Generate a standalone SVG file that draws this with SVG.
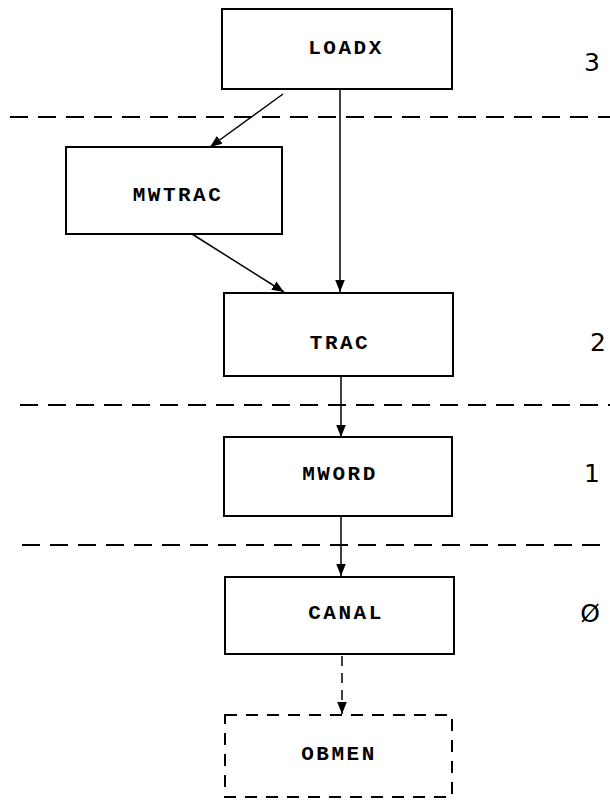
<svg xmlns="http://www.w3.org/2000/svg" width="610" height="800" viewBox="0 0 610 800">
<style>
.box{fill:#fff;stroke:#000;stroke-width:2}
.dbox{fill:#fff;stroke:#000;stroke-width:2;stroke-dasharray:12 9}
.lbl{font-family:"Liberation Mono",monospace;font-weight:bold;font-size:21px;letter-spacing:2.5px;text-anchor:middle;fill:#000}
.lvl{font-family:"DejaVu Sans",sans-serif;font-size:25px;fill:#000;text-anchor:middle}
.sep{stroke:#000;stroke-width:2;stroke-dasharray:18 10;fill:none}
.con{stroke:#000;stroke-width:1.5;fill:none}
</style>
<defs>
<marker id="ah" viewBox="0 0 10 10" refX="10" refY="5" markerWidth="12" markerHeight="12" markerUnits="userSpaceOnUse" orient="auto">
<path d="M0,1 L10,5 L0,9 z" fill="#000"/>
</marker>
</defs>
<g id="separators">
<line class="sep" x1="10" y1="117" x2="610" y2="117"/>
<line class="sep" x1="20" y1="405" x2="610" y2="405"/>
<line class="sep" x1="22" y1="545" x2="610" y2="545"/>
</g>
<g id="levels">
<text class="lvl" x="592" y="71">3</text>
<text class="lvl" x="598" y="351">2</text>
<text class="lvl" x="592" y="482">1</text>
<text class="lvl" x="590" y="622">Ø</text>
</g>
<g id="connectors">
<line class="con" x1="283" y1="94" x2="210" y2="147" marker-end="url(#ah)"/>
<line class="con" x1="340" y1="89" x2="340" y2="292" marker-end="url(#ah)"/>
<line class="con" x1="192" y1="234" x2="284" y2="292" marker-end="url(#ah)"/>
<line class="con" x1="341" y1="376" x2="341" y2="437" marker-end="url(#ah)"/>
<line class="con" x1="341" y1="516" x2="341" y2="576" marker-end="url(#ah)"/>
<line class="con" x1="342" y1="656" x2="342" y2="714" stroke-dasharray="10 7" marker-end="url(#ah)"/>
</g>
<g id="LOADX">
<rect class="box" x="222" y="9" width="230" height="80"/>
<text class="lbl" x="346" y="54">LOADX</text>
</g>
<g id="MWTRAC">
<rect class="box" x="66" y="147" width="216" height="87"/>
<text class="lbl" x="178" y="201">MWTRAC</text>
</g>
<g id="TRAC">
<rect class="box" x="224" y="293" width="229" height="83"/>
<text class="lbl" x="340" y="349">TRAC</text>
</g>
<g id="MWORD">
<rect class="box" x="224" y="437" width="228" height="79"/>
<text class="lbl" x="340" y="480">MWORD</text>
</g>
<g id="CANAL">
<rect class="box" x="225" y="577" width="229" height="77"/>
<text class="lbl" x="346" y="619">CANAL</text>
</g>
<g id="OBMEN">
<rect class="dbox" x="225" y="715" width="227" height="82"/>
<text class="lbl" x="339" y="760">OBMEN</text>
</g>
</svg>
